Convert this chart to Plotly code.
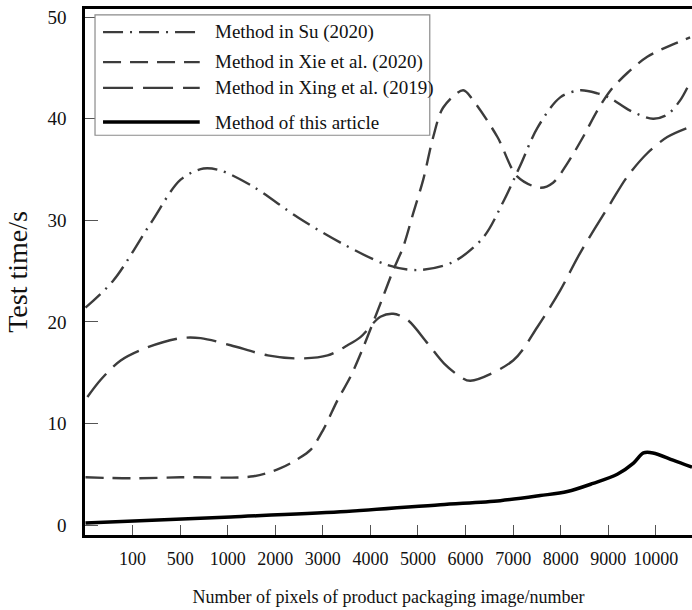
import plotly.graph_objects as go

# ---- data (x in tick-index units: 1 = "100", 12 = "10000") ----
tick_labels = ["100", "500", "1000", "2000", "3000", "4000", "5000",
               "6000", "7000", "8000", "9000", "10000"]
tick_pos = list(range(1, 13))

names = ["Method in Su (2020)", "Method in Xie et al. (2020)",
         "Method in Xing et al. (2019)", "Method of this article"]

su_x = [0.01, 0.60, 1.38, 2.01, 2.49, 2.85, 3.54, 4.47, 5.37, 6.36, 6.99, 7.74,
        8.37, 8.79, 9.15, 9.51, 9.99, 10.41, 10.77, 11.05, 11.46, 11.94, 12.24, 12.51, 12.72]
su_y = [21.4, 24.1, 29.7, 34.0, 35.1, 34.9, 33.3, 30.3, 27.8, 25.6, 25.1, 25.9,
        28.3, 31.8, 35.4, 39.1, 42.1, 42.8, 42.5, 42.0, 40.8, 40.0, 40.4, 41.8, 43.6]

xie_x = [0.01, 0.96, 2.01, 3.54, 4.11, 4.47, 4.74, 5.01, 5.31, 5.58, 5.85, 6.21,
         6.48, 6.69, 6.90, 7.11, 7.32, 7.53, 7.95, 8.16, 8.67, 9.09, 9.57, 9.84,
         10.14, 10.47, 10.77, 11.05, 11.40, 11.82, 12.30, 12.72]
xie_y = [4.7, 4.6, 4.7, 4.8, 5.6, 6.5, 7.4, 9.4, 12.3, 14.6, 17.5, 21.8,
         25.1, 27.4, 30.7, 34.0, 38.2, 41.1, 42.8, 41.8, 38.2, 34.3, 33.2, 33.7,
         35.6, 38.2, 40.8, 42.8, 44.5, 46.1, 47.2, 48.0]

xing_x = [0.05, 0.33, 0.75, 1.32, 2.01, 2.43, 3.06, 3.84, 4.47, 5.10, 5.52, 5.79,
          6.21, 6.48, 6.78, 7.20, 7.55, 7.89, 8.10, 9.00, 9.51, 9.99, 10.41, 11.05,
          11.40, 11.82, 12.24, 12.72]
xing_y = [12.6, 14.3, 16.2, 17.5, 18.4, 18.4, 17.7, 16.7, 16.4, 16.7, 17.7, 18.5,
          20.5, 20.8, 20.2, 17.9, 15.9, 14.6, 14.2, 16.2, 19.5, 23.1, 26.8, 31.7,
          34.3, 36.6, 38.2, 39.2]

art_x = [0.01, 3.06, 5.37, 7.47, 8.73, 9.57, 10.14, 10.68, 11.19, 11.53,
         11.74, 11.94, 12.36, 12.76]
art_y = [0.2, 0.8, 1.3, 2.0, 2.4, 2.9, 3.3, 4.1, 5.0, 6.1, 7.1, 7.1, 6.4, 5.7]

# ---- styles ----
GRAY = "#3c3c3c"
styles = [
    dict(color=GRAY, width=2.4, dash="20px,7px,2px,7px"),
    dict(color=GRAY, width=2.4, dash="18px,9px"),
    dict(color=GRAY, width=2.4, dash="30px,10px"),
    dict(color="#000000", width=3.5, dash="solid"),
]
series = [(su_x, su_y), (xie_x, xie_y), (xing_x, xing_y), (art_x, art_y)]

FONT = "Liberation Serif"
fig = go.Figure()
for (xs, ys), nm, st in zip(series, names, styles):
    fig.add_trace(go.Scatter(x=xs, y=ys, mode="lines", name=nm,
                             line=dict(shape="spline", smoothing=0.9, **st),
                             showlegend=False))

# manual legend (box, line samples, labels)
shapes = [dict(type="rect", xref="paper", yref="paper", x0=0.0165, x1=0.568,
               y0=0.760, y1=0.989, line=dict(color="#8a8a8a", width=1.2),
               fillcolor="white", layer="above")]
annotations = []
rows = [0.956, 0.899, 0.850, 0.785]
for nm, st, ry in zip(names, styles, rows):
    shapes.append(dict(type="line", xref="paper", yref="paper", x0=0.0297, x1=0.189,
                       y0=ry, y1=ry, layer="above",
                       line=dict(color=st["color"], width=st["width"], dash=st["dash"])))
    annotations.append(dict(xref="paper", yref="paper", x=0.211, y=ry, text=nm,
                            showarrow=False, xanchor="left", yanchor="middle",
                            font=dict(family=FONT, size=19, color="#111")))

fig.update_layout(
    width=692, height=610,
    margin=dict(l=85, r=0, t=9, b=75),
    paper_bgcolor="white", plot_bgcolor="white",
    font=dict(family=FONT, size=18, color="#111"),
    shapes=shapes, annotations=annotations,
    showlegend=False,
)
fig.update_xaxes(range=[0, 12.76], tickvals=tick_pos, ticktext=tick_labels,
                 showgrid=False, zeroline=False, showline=True, linecolor="black",
                 linewidth=2.5, mirror=True, ticks="inside", ticklen=10, tickwidth=1,
                 tickcolor="#555", ticklabelstandoff=6,
                 tickfont=dict(family=FONT, size=18),
                 title=dict(text="Number of pixels of product packaging image/number",
                            font=dict(family=FONT, size=18), standoff=23))
fig.update_yaxes(range=[-0.98, 50.8], tickvals=[0, 10, 20, 30, 40, 50],
                 showgrid=False, zeroline=False, showline=True, linecolor="black",
                 linewidth=2.5, ticks="inside", ticklen=13, tickwidth=1,
                 tickcolor="#555", ticklabelstandoff=12,
                 tickfont=dict(family=FONT, size=19),
                 title=dict(text="Test time/s", font=dict(family=FONT, size=28),
                            standoff=12))

fig.write_html("out.html", config={"displayModeBar": False},
               post_script="document.body.style.margin='0';"
                           "document.body.style.overflow='hidden';")
